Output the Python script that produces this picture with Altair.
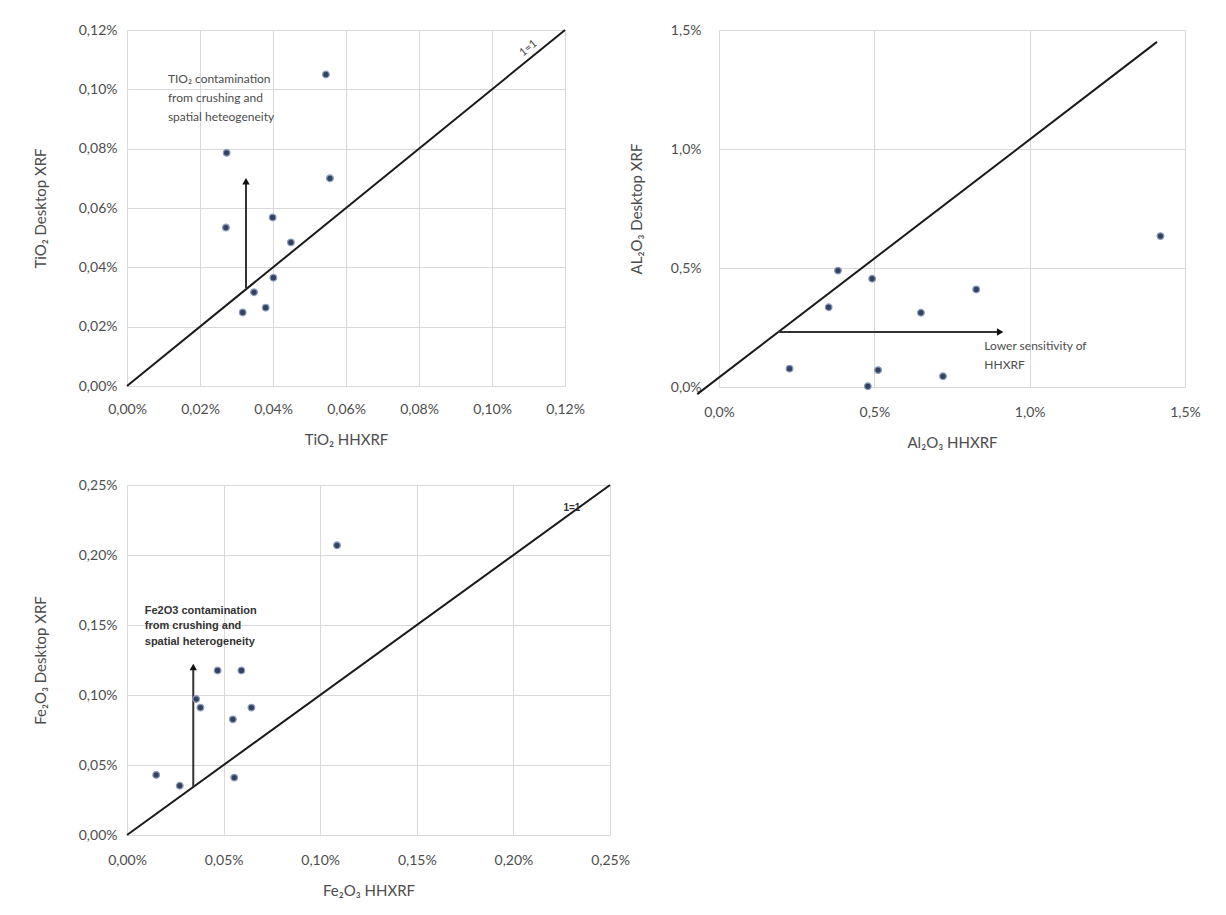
import altair as alt
import pandas as pd

# ---------------- data ----------------
# Panel 1: TiO2
tio2_hhxrf = [0.0273, 0.0556, 0.0271, 0.0399, 0.0449, 0.0401, 0.0348, 0.0317, 0.0380, 0.0545]
tio2_desktop = [0.0786, 0.0700, 0.0534, 0.0568, 0.0484, 0.0365, 0.0316, 0.0248, 0.0264, 0.1050]
tio2_ticks = [0, 0.02, 0.04, 0.06, 0.08, 0.10, 0.12]
tio2_line_x = [0, 0.12]
tio2_line_y = [0, 0.12]
tio2_arrow_x = [0.0326, 0.0326]
tio2_arrow_y = [0.0330, 0.0690]
tio2_note = ["TIO₂ contamination", "from crushing and", "spatial heteogeneity"]
tio2_note_x = [0.0112, 0.0112, 0.0112]
tio2_note_y = [0.1034, 0.0970, 0.0906]

# Panel 2: Al2O3
al_hhxrf = [0.383, 0.493, 0.353, 0.650, 0.828, 0.227, 0.512, 0.479, 0.721, 1.421]
al_desktop = [0.489, 0.455, 0.335, 0.312, 0.410, 0.077, 0.071, 0.003, 0.045, 0.634]
al_ticks = [0, 0.5, 1.0, 1.5]
al_line_x = [-0.07, 1.41]
al_line_y = [-0.03, 1.45]
al_arrow_x = [0.19, 0.905]
al_arrow_y = [0.231, 0.231]
al_note = ["Lower sensitivity of", "HHXRF"]
al_note_x = [0.854, 0.854]
al_note_y = [0.172, 0.094]

# Panel 3: Fe2O3
fe_hhxrf = [0.0151, 0.0273, 0.0358, 0.0380, 0.0548, 0.0644, 0.0555, 0.0469, 0.0592, 0.1087]
fe_desktop = [0.0429, 0.0352, 0.0971, 0.0910, 0.0826, 0.0910, 0.0410, 0.1175, 0.1175, 0.2069]
fe_ticks = [0, 0.05, 0.10, 0.15, 0.20, 0.25]
fe_line_x = [0, 0.25]
fe_line_y = [0, 0.25]
fe_arrow_x = [0.0343, 0.0343]
fe_arrow_y = [0.0343, 0.1200]
fe_note = ["Fe2O3 contamination", "from crushing and", "spatial heterogeneity"]
fe_note_x = [0.0092, 0.0092, 0.0092]
fe_note_y = [0.1597, 0.1490, 0.1376]

one_label = ["1=1"]

# ---------------- helpers ----------------
GRID = "#d9d9d9"
TXT = "#4d4d4d"
FONT = "Lato"


def axis(title, ticks, dec, lab_pad, title_pad):
    return alt.Axis(
        title=title, values=ticks,
        labelExpr=f"replace(format(datum.value, '.{dec}f'), '.', ',') + '%'",
        grid=True, gridColor=GRID, gridWidth=1, domain=False, ticks=False,
        labelFont=FONT, labelFontSize=14, labelColor=TXT, labelFlush=False,
        labelPadding=lab_pad, titleFont=FONT, titleFontSize=15,
        titleFontWeight="normal", titleColor=TXT, titlePadding=title_pad,
    )


def panel(hh, dt, ticks, dec, xtitle, ytitle, line_x, line_y,
          arrow_x, arrow_y, head_shape, note, note_x, note_y,
          note_font, note_size, note_weight, note_color,
          w, h, ypads, xpads, one_xy=None, one_angle=0, one_font=None,
          one_size=10, one_weight="normal", one_color=TXT):
    dom = [ticks[0], ticks[-1]]
    xs = alt.Scale(domain=dom, nice=False, zero=False)
    ys = alt.Scale(domain=dom, nice=False, zero=False)
    X = lambda: alt.X("x:Q", scale=xs, axis=axis(xtitle, ticks, dec, xpads[0], xpads[1]))
    Y = lambda: alt.Y("y:Q", scale=ys, axis=axis(ytitle, ticks, dec, ypads[0], ypads[1]))

    pts = alt.Chart(pd.DataFrame({"x": hh, "y": dt})).mark_point(
        filled=True, size=44, fill="#34425f", stroke="#8a9cc0", strokeWidth=1.3,
        opacity=1, shape="circle"
    ).encode(x=X(), y=Y())

    diag = alt.Chart(pd.DataFrame({"x": line_x, "y": line_y})).mark_line(
        color="#1a1a1a", strokeWidth=2, clip=False
    ).encode(x=X(), y=Y())

    shaft = alt.Chart(pd.DataFrame({"x": arrow_x, "y": arrow_y})).mark_line(
        color="#333333", strokeWidth=2
    ).encode(x=X(), y=Y())

    head = alt.Chart(pd.DataFrame({"x": arrow_x[-1:], "y": arrow_y[-1:]})).mark_point(
        shape=head_shape, filled=True, size=55, color="#111111", opacity=1
    ).encode(x=X(), y=Y())

    notes = alt.Chart(pd.DataFrame({"x": note_x, "y": note_y, "t": note})).mark_text(
        align="left", baseline="middle", font=note_font, fontSize=note_size,
        fontWeight=note_weight, color=note_color
    ).encode(x=X(), y=Y(), text="t:N")

    layers = [diag, shaft, head, pts, notes]
    if one_xy is not None:
        one = alt.Chart(pd.DataFrame({"x": [one_xy[0]], "y": [one_xy[1]], "t": one_label})).mark_text(
            align="center", baseline="middle", angle=one_angle, font=one_font,
            fontSize=one_size, fontWeight=one_weight, color=one_color
        ).encode(x=X(), y=Y(), text="t:N")
        layers.append(one)
    return alt.layer(*layers).properties(width=w, height=h)


p1 = panel(tio2_hhxrf, tio2_desktop, tio2_ticks, 2, "TiO₂ HHXRF", "TiO₂ Desktop XRF",
           tio2_line_x, tio2_line_y, tio2_arrow_x, tio2_arrow_y, "triangle-up",
           tio2_note, tio2_note_x, tio2_note_y, FONT, 12, "normal", TXT,
           438, 356, (10, 30), (16, 16),
           one_xy=(0.1100, 0.1138), one_angle=321, one_font=FONT, one_size=11)

p2 = panel(al_hhxrf, al_desktop, al_ticks, 1, "Al₂O₃ HHXRF", "AL₂O₃ Desktop XRF",
           al_line_x, al_line_y, al_arrow_x, al_arrow_y, "triangle-right",
           al_note, al_note_x, al_note_y, FONT, 12, "normal", TXT,
           466, 357, (18, 26), (18, 16))

p3 = panel(fe_hhxrf, fe_desktop, fe_ticks, 2, "Fe₂O₃ HHXRF", "Fe₂O₃ Desktop XRF",
           fe_line_x, fe_line_y, fe_arrow_x, fe_arrow_y, "triangle-up",
           fe_note, fe_note_x, fe_note_y, "Liberation Sans", 11, "bold", "#333333",
           483, 350, (10, 30), (18, 16),
           one_xy=(0.2303, 0.2338), one_angle=0, one_font="Liberation Sans",
           one_size=10, one_weight="bold", one_color="#333333")

row1 = alt.hconcat(p1, p2, spacing=44)
chart = alt.vconcat(row1, p3, spacing=28).properties(
    padding={"left": 25, "top": 15, "right": 5, "bottom": 5},
    background="white",
).configure_view(stroke=None)

chart.save("out.html", embed_options={"renderer": "svg", "actions": False})
